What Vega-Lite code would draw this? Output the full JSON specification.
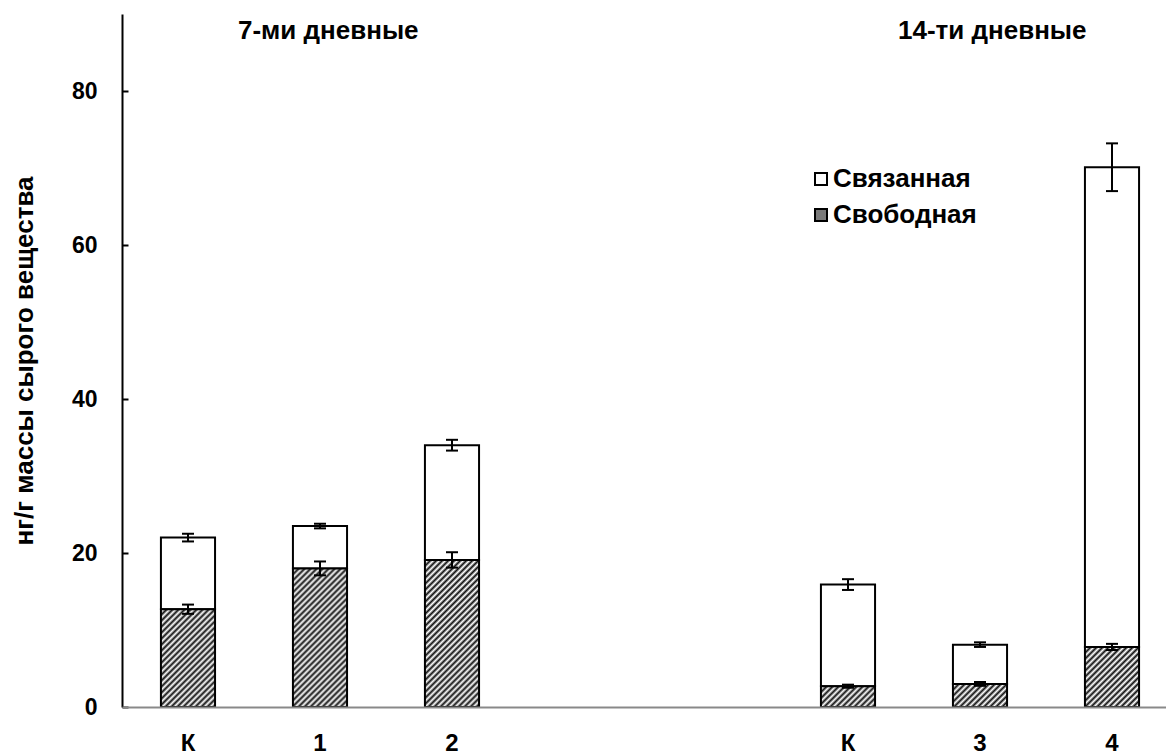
{
  "$schema": "https://vega.github.io/schema/vega-lite/v6.json",
  "width": 1044,
  "height": 693,
  "autosize": {"type": "none"},
  "padding": {"left": 122, "top": 14, "right": 0, "bottom": 47},
  "background": "white",
  "config": {"view": {"stroke": null}, "font": "Liberation Sans"},
  "datasets": {
    "bars": [
      {"cat": "К7", "part": "Свободная", "start": 0, "end": 12.7},
      {"cat": "К7", "part": "Связанная", "start": 12.7, "end": 22.0},
      {"cat": "1", "part": "Свободная", "start": 0, "end": 18.0},
      {"cat": "1", "part": "Связанная", "start": 18.0, "end": 23.5},
      {"cat": "2", "part": "Свободная", "start": 0, "end": 19.1},
      {"cat": "2", "part": "Связанная", "start": 19.1, "end": 34.0},
      {"cat": "К14", "part": "Свободная", "start": 0, "end": 2.7},
      {"cat": "К14", "part": "Связанная", "start": 2.7, "end": 15.9},
      {"cat": "3", "part": "Свободная", "start": 0, "end": 3.0},
      {"cat": "3", "part": "Связанная", "start": 3.0, "end": 8.1},
      {"cat": "4", "part": "Свободная", "start": 0, "end": 7.8},
      {"cat": "4", "part": "Связанная", "start": 7.8, "end": 70.1}
    ],
    "errs": [
      {"cat": "К7", "lo": 12.1, "hi": 13.3},
      {"cat": "К7", "lo": 21.5, "hi": 22.5},
      {"cat": "1", "lo": 17.1, "hi": 18.9},
      {"cat": "1", "lo": 23.2, "hi": 23.8},
      {"cat": "2", "lo": 18.1, "hi": 20.1},
      {"cat": "2", "lo": 33.3, "hi": 34.7},
      {"cat": "К14", "lo": 2.5, "hi": 2.9},
      {"cat": "К14", "lo": 15.2, "hi": 16.6},
      {"cat": "3", "lo": 2.75, "hi": 3.25},
      {"cat": "3", "lo": 7.8, "hi": 8.4},
      {"cat": "4", "lo": 7.4, "hi": 8.2},
      {"cat": "4", "lo": 67.0, "hi": 73.2}
    ],
    "heads": [
      {"cat": "К7", "label": "7-ми дневные", "level": 86.8},
      {"cat": "К14", "label": "14-ти дневные", "level": 86.8}
    ]
  },
  "encoding": {
    "x": {
      "field": "cat",
      "type": "nominal",
      "sort": null,
      "scale": {
        "domain": ["К7", "1", "2", "g1", "g2", "К14", "3", "4"],
        "paddingInner": 0.59,
        "paddingOuter": 0.2495,
        "align": 0.591
      },
      "axis": {
        "orient": "bottom",
        "title": null,
        "ticks": false,
        "labelAngle": 0,
        "domainColor": "#898989",
        "domainWidth": 2,
        "labelPadding": 24,
        "labelFont": "Liberation Sans",
        "labelFontSize": 24,
        "labelFontWeight": "bold",
        "labelColor": "black",
        "zindex": 1,
        "labelExpr": "(datum.value == 'К7' || datum.value == 'К14') ? 'К' : (datum.value[0] == 'g' ? '' : datum.value)"
      }
    }
  },
  "layer": [
    {
      "data": {"name": "bars"},
      "transform": [{"filter": "datum.part == 'Связанная'"}],
      "mark": {"type": "bar", "stroke": "black", "strokeWidth": 2},
      "encoding": {
        "y": {
          "field": "start",
          "type": "quantitative",
          "scale": {"domain": [0, 90], "nice": false},
          "axis": {
            "orient": "left",
            "values": [0, 20, 40, 60, 80],
            "grid": false,
            "domainColor": "black",
            "domainWidth": 2,
            "tickColor": "black",
            "tickWidth": 2,
            "tickSize": -6,
            "labelPadding": 31,
            "labelFont": "Liberation Sans",
            "labelFontSize": 23,
            "labelFontWeight": "bold",
            "labelColor": "black",
            "title": "нг/г массы сырого вещества",
            "titleFont": "Liberation Sans",
            "titleFontSize": 26,
            "titleFontWeight": "bold",
            "titleColor": "black",
            "titlePadding": 34
          }
        },
        "y2": {"field": "end"},
        "fill": {
          "field": "part",
          "type": "nominal",
          "scale": {"domain": ["Связанная", "Свободная"], "range": ["#ffffff", "#7a7a7a"]},
          "legend": {
            "orient": "none",
            "legendX": 686,
            "legendY": 152,
            "title": null,
            "symbolType": "square",
            "symbolSize": 144,
            "symbolStrokeColor": "black",
            "symbolStrokeWidth": 2,
            "labelFont": "Liberation Sans",
            "labelFontSize": 26,
            "labelFontWeight": "bold",
            "labelColor": "black",
            "labelOffset": -1,
            "rowPadding": 10
          }
        }
      }
    },
    {
      "data": {"name": "bars"},
      "transform": [{"filter": "datum.part == 'Свободная' && datum.cat == 'К7'"}],
      "mark": {"type": "bar", "stroke": "black", "strokeWidth": 2,
        "fill": {"gradient": "linear", "x1": 0, "y1": 0, "x2": 1.0385, "y2": 1.8808, "stops": [{"offset":0,"color":"#111"},{"offset":0.0125,"color":"#fff"},{"offset":0.025,"color":"#111"},{"offset":0.0375,"color":"#fff"},{"offset":0.05,"color":"#111"},{"offset":0.0625,"color":"#fff"},{"offset":0.075,"color":"#111"},{"offset":0.0875,"color":"#fff"},{"offset":0.1,"color":"#111"},{"offset":0.1125,"color":"#fff"},{"offset":0.125,"color":"#111"},{"offset":0.1375,"color":"#fff"},{"offset":0.15,"color":"#111"},{"offset":0.1625,"color":"#fff"},{"offset":0.175,"color":"#111"},{"offset":0.1875,"color":"#fff"},{"offset":0.2,"color":"#111"},{"offset":0.2125,"color":"#fff"},{"offset":0.225,"color":"#111"},{"offset":0.2375,"color":"#fff"},{"offset":0.25,"color":"#111"},{"offset":0.2625,"color":"#fff"},{"offset":0.275,"color":"#111"},{"offset":0.2875,"color":"#fff"},{"offset":0.3,"color":"#111"},{"offset":0.3125,"color":"#fff"},{"offset":0.325,"color":"#111"},{"offset":0.3375,"color":"#fff"},{"offset":0.35,"color":"#111"},{"offset":0.3625,"color":"#fff"},{"offset":0.375,"color":"#111"},{"offset":0.3875,"color":"#fff"},{"offset":0.4,"color":"#111"},{"offset":0.4125,"color":"#fff"},{"offset":0.425,"color":"#111"},{"offset":0.4375,"color":"#fff"},{"offset":0.45,"color":"#111"},{"offset":0.4625,"color":"#fff"},{"offset":0.475,"color":"#111"},{"offset":0.4875,"color":"#fff"},{"offset":0.5,"color":"#111"},{"offset":0.5125,"color":"#fff"},{"offset":0.525,"color":"#111"},{"offset":0.5375,"color":"#fff"},{"offset":0.55,"color":"#111"},{"offset":0.5625,"color":"#fff"},{"offset":0.575,"color":"#111"},{"offset":0.5875,"color":"#fff"},{"offset":0.6,"color":"#111"},{"offset":0.6125,"color":"#fff"},{"offset":0.625,"color":"#111"},{"offset":0.6375,"color":"#fff"},{"offset":0.65,"color":"#111"},{"offset":0.6625,"color":"#fff"},{"offset":0.675,"color":"#111"},{"offset":0.6875,"color":"#fff"},{"offset":0.7,"color":"#111"},{"offset":0.7125,"color":"#fff"},{"offset":0.725,"color":"#111"},{"offset":0.7375,"color":"#fff"},{"offset":0.75,"color":"#111"},{"offset":0.7625,"color":"#fff"},{"offset":0.775,"color":"#111"},{"offset":0.7875,"color":"#fff"},{"offset":0.8,"color":"#111"},{"offset":0.8125,"color":"#fff"},{"offset":0.825,"color":"#111"},{"offset":0.8375,"color":"#fff"},{"offset":0.85,"color":"#111"},{"offset":0.8625,"color":"#fff"},{"offset":0.875,"color":"#111"},{"offset":0.8875,"color":"#fff"},{"offset":0.9,"color":"#111"},{"offset":0.9125,"color":"#fff"},{"offset":0.925,"color":"#111"},{"offset":0.9375,"color":"#fff"},{"offset":0.95,"color":"#111"},{"offset":0.9625,"color":"#fff"},{"offset":0.975,"color":"#111"},{"offset":0.9875,"color":"#fff"},{"offset":1,"color":"#111"}]}
      },
      "encoding": {"y": {"field": "start", "type": "quantitative"}, "y2": {"field": "end"}}
    },
    {
      "data": {"name": "bars"},
      "transform": [{"filter": "datum.part == 'Свободная' && datum.cat == '1'"}],
      "mark": {"type": "bar", "stroke": "black", "strokeWidth": 2,
        "fill": {"gradient": "linear", "x1": 0, "y1": 0, "x2": 0.5857, "y2": 1.5033, "stops": [{"offset":0,"color":"#111"},{"offset":0.0125,"color":"#fff"},{"offset":0.025,"color":"#111"},{"offset":0.0375,"color":"#fff"},{"offset":0.05,"color":"#111"},{"offset":0.0625,"color":"#fff"},{"offset":0.075,"color":"#111"},{"offset":0.0875,"color":"#fff"},{"offset":0.1,"color":"#111"},{"offset":0.1125,"color":"#fff"},{"offset":0.125,"color":"#111"},{"offset":0.1375,"color":"#fff"},{"offset":0.15,"color":"#111"},{"offset":0.1625,"color":"#fff"},{"offset":0.175,"color":"#111"},{"offset":0.1875,"color":"#fff"},{"offset":0.2,"color":"#111"},{"offset":0.2125,"color":"#fff"},{"offset":0.225,"color":"#111"},{"offset":0.2375,"color":"#fff"},{"offset":0.25,"color":"#111"},{"offset":0.2625,"color":"#fff"},{"offset":0.275,"color":"#111"},{"offset":0.2875,"color":"#fff"},{"offset":0.3,"color":"#111"},{"offset":0.3125,"color":"#fff"},{"offset":0.325,"color":"#111"},{"offset":0.3375,"color":"#fff"},{"offset":0.35,"color":"#111"},{"offset":0.3625,"color":"#fff"},{"offset":0.375,"color":"#111"},{"offset":0.3875,"color":"#fff"},{"offset":0.4,"color":"#111"},{"offset":0.4125,"color":"#fff"},{"offset":0.425,"color":"#111"},{"offset":0.4375,"color":"#fff"},{"offset":0.45,"color":"#111"},{"offset":0.4625,"color":"#fff"},{"offset":0.475,"color":"#111"},{"offset":0.4875,"color":"#fff"},{"offset":0.5,"color":"#111"},{"offset":0.5125,"color":"#fff"},{"offset":0.525,"color":"#111"},{"offset":0.5375,"color":"#fff"},{"offset":0.55,"color":"#111"},{"offset":0.5625,"color":"#fff"},{"offset":0.575,"color":"#111"},{"offset":0.5875,"color":"#fff"},{"offset":0.6,"color":"#111"},{"offset":0.6125,"color":"#fff"},{"offset":0.625,"color":"#111"},{"offset":0.6375,"color":"#fff"},{"offset":0.65,"color":"#111"},{"offset":0.6625,"color":"#fff"},{"offset":0.675,"color":"#111"},{"offset":0.6875,"color":"#fff"},{"offset":0.7,"color":"#111"},{"offset":0.7125,"color":"#fff"},{"offset":0.725,"color":"#111"},{"offset":0.7375,"color":"#fff"},{"offset":0.75,"color":"#111"},{"offset":0.7625,"color":"#fff"},{"offset":0.775,"color":"#111"},{"offset":0.7875,"color":"#fff"},{"offset":0.8,"color":"#111"},{"offset":0.8125,"color":"#fff"},{"offset":0.825,"color":"#111"},{"offset":0.8375,"color":"#fff"},{"offset":0.85,"color":"#111"},{"offset":0.8625,"color":"#fff"},{"offset":0.875,"color":"#111"},{"offset":0.8875,"color":"#fff"},{"offset":0.9,"color":"#111"},{"offset":0.9125,"color":"#fff"},{"offset":0.925,"color":"#111"},{"offset":0.9375,"color":"#fff"},{"offset":0.95,"color":"#111"},{"offset":0.9625,"color":"#fff"},{"offset":0.975,"color":"#111"},{"offset":0.9875,"color":"#fff"},{"offset":1,"color":"#111"}]}
      },
      "encoding": {"y": {"field": "start", "type": "quantitative"}, "y2": {"field": "end"}}
    },
    {
      "data": {"name": "bars"},
      "transform": [{"filter": "datum.part == 'Свободная' && datum.cat == '2'"}],
      "mark": {"type": "bar", "stroke": "black", "strokeWidth": 2,
        "fill": {"gradient": "linear", "x1": 0, "y1": 0, "x2": 0.5303, "y2": 1.4407, "stops": [{"offset":0,"color":"#111"},{"offset":0.0125,"color":"#fff"},{"offset":0.025,"color":"#111"},{"offset":0.0375,"color":"#fff"},{"offset":0.05,"color":"#111"},{"offset":0.0625,"color":"#fff"},{"offset":0.075,"color":"#111"},{"offset":0.0875,"color":"#fff"},{"offset":0.1,"color":"#111"},{"offset":0.1125,"color":"#fff"},{"offset":0.125,"color":"#111"},{"offset":0.1375,"color":"#fff"},{"offset":0.15,"color":"#111"},{"offset":0.1625,"color":"#fff"},{"offset":0.175,"color":"#111"},{"offset":0.1875,"color":"#fff"},{"offset":0.2,"color":"#111"},{"offset":0.2125,"color":"#fff"},{"offset":0.225,"color":"#111"},{"offset":0.2375,"color":"#fff"},{"offset":0.25,"color":"#111"},{"offset":0.2625,"color":"#fff"},{"offset":0.275,"color":"#111"},{"offset":0.2875,"color":"#fff"},{"offset":0.3,"color":"#111"},{"offset":0.3125,"color":"#fff"},{"offset":0.325,"color":"#111"},{"offset":0.3375,"color":"#fff"},{"offset":0.35,"color":"#111"},{"offset":0.3625,"color":"#fff"},{"offset":0.375,"color":"#111"},{"offset":0.3875,"color":"#fff"},{"offset":0.4,"color":"#111"},{"offset":0.4125,"color":"#fff"},{"offset":0.425,"color":"#111"},{"offset":0.4375,"color":"#fff"},{"offset":0.45,"color":"#111"},{"offset":0.4625,"color":"#fff"},{"offset":0.475,"color":"#111"},{"offset":0.4875,"color":"#fff"},{"offset":0.5,"color":"#111"},{"offset":0.5125,"color":"#fff"},{"offset":0.525,"color":"#111"},{"offset":0.5375,"color":"#fff"},{"offset":0.55,"color":"#111"},{"offset":0.5625,"color":"#fff"},{"offset":0.575,"color":"#111"},{"offset":0.5875,"color":"#fff"},{"offset":0.6,"color":"#111"},{"offset":0.6125,"color":"#fff"},{"offset":0.625,"color":"#111"},{"offset":0.6375,"color":"#fff"},{"offset":0.65,"color":"#111"},{"offset":0.6625,"color":"#fff"},{"offset":0.675,"color":"#111"},{"offset":0.6875,"color":"#fff"},{"offset":0.7,"color":"#111"},{"offset":0.7125,"color":"#fff"},{"offset":0.725,"color":"#111"},{"offset":0.7375,"color":"#fff"},{"offset":0.75,"color":"#111"},{"offset":0.7625,"color":"#fff"},{"offset":0.775,"color":"#111"},{"offset":0.7875,"color":"#fff"},{"offset":0.8,"color":"#111"},{"offset":0.8125,"color":"#fff"},{"offset":0.825,"color":"#111"},{"offset":0.8375,"color":"#fff"},{"offset":0.85,"color":"#111"},{"offset":0.8625,"color":"#fff"},{"offset":0.875,"color":"#111"},{"offset":0.8875,"color":"#fff"},{"offset":0.9,"color":"#111"},{"offset":0.9125,"color":"#fff"},{"offset":0.925,"color":"#111"},{"offset":0.9375,"color":"#fff"},{"offset":0.95,"color":"#111"},{"offset":0.9625,"color":"#fff"},{"offset":0.975,"color":"#111"},{"offset":0.9875,"color":"#fff"},{"offset":1,"color":"#111"}]}
      },
      "encoding": {"y": {"field": "start", "type": "quantitative"}, "y2": {"field": "end"}}
    },
    {
      "data": {"name": "bars"},
      "transform": [{"filter": "datum.part == 'Свободная' && datum.cat == 'К14'"}],
      "mark": {"type": "bar", "stroke": "black", "strokeWidth": 2,
        "fill": {"gradient": "linear", "x1": 0, "y1": 0, "x2": 3.870, "y2": 1.4907, "stops": [{"offset":0,"color":"#111"},{"offset":0.0125,"color":"#fff"},{"offset":0.025,"color":"#111"},{"offset":0.0375,"color":"#fff"},{"offset":0.05,"color":"#111"},{"offset":0.0625,"color":"#fff"},{"offset":0.075,"color":"#111"},{"offset":0.0875,"color":"#fff"},{"offset":0.1,"color":"#111"},{"offset":0.1125,"color":"#fff"},{"offset":0.125,"color":"#111"},{"offset":0.1375,"color":"#fff"},{"offset":0.15,"color":"#111"},{"offset":0.1625,"color":"#fff"},{"offset":0.175,"color":"#111"},{"offset":0.1875,"color":"#fff"},{"offset":0.2,"color":"#111"},{"offset":0.2125,"color":"#fff"},{"offset":0.225,"color":"#111"},{"offset":0.2375,"color":"#fff"},{"offset":0.25,"color":"#111"},{"offset":0.2625,"color":"#fff"},{"offset":0.275,"color":"#111"},{"offset":0.2875,"color":"#fff"},{"offset":0.3,"color":"#111"},{"offset":0.3125,"color":"#fff"},{"offset":0.325,"color":"#111"},{"offset":0.3375,"color":"#fff"},{"offset":0.35,"color":"#111"},{"offset":0.3625,"color":"#fff"},{"offset":0.375,"color":"#111"},{"offset":0.3875,"color":"#fff"},{"offset":0.4,"color":"#111"},{"offset":0.4125,"color":"#fff"},{"offset":0.425,"color":"#111"},{"offset":0.4375,"color":"#fff"},{"offset":0.45,"color":"#111"},{"offset":0.4625,"color":"#fff"},{"offset":0.475,"color":"#111"},{"offset":0.4875,"color":"#fff"},{"offset":0.5,"color":"#111"},{"offset":0.5125,"color":"#fff"},{"offset":0.525,"color":"#111"},{"offset":0.5375,"color":"#fff"},{"offset":0.55,"color":"#111"},{"offset":0.5625,"color":"#fff"},{"offset":0.575,"color":"#111"},{"offset":0.5875,"color":"#fff"},{"offset":0.6,"color":"#111"},{"offset":0.6125,"color":"#fff"},{"offset":0.625,"color":"#111"},{"offset":0.6375,"color":"#fff"},{"offset":0.65,"color":"#111"},{"offset":0.6625,"color":"#fff"},{"offset":0.675,"color":"#111"},{"offset":0.6875,"color":"#fff"},{"offset":0.7,"color":"#111"},{"offset":0.7125,"color":"#fff"},{"offset":0.725,"color":"#111"},{"offset":0.7375,"color":"#fff"},{"offset":0.75,"color":"#111"},{"offset":0.7625,"color":"#fff"},{"offset":0.775,"color":"#111"},{"offset":0.7875,"color":"#fff"},{"offset":0.8,"color":"#111"},{"offset":0.8125,"color":"#fff"},{"offset":0.825,"color":"#111"},{"offset":0.8375,"color":"#fff"},{"offset":0.85,"color":"#111"},{"offset":0.8625,"color":"#fff"},{"offset":0.875,"color":"#111"},{"offset":0.8875,"color":"#fff"},{"offset":0.9,"color":"#111"},{"offset":0.9125,"color":"#fff"},{"offset":0.925,"color":"#111"},{"offset":0.9375,"color":"#fff"},{"offset":0.95,"color":"#111"},{"offset":0.9625,"color":"#fff"},{"offset":0.975,"color":"#111"},{"offset":0.9875,"color":"#fff"},{"offset":1,"color":"#111"}]}
      },
      "encoding": {"y": {"field": "start", "type": "quantitative"}, "y2": {"field": "end"}}
    },
    {
      "data": {"name": "bars"},
      "transform": [{"filter": "datum.part == 'Свободная' && datum.cat == '3'"}],
      "mark": {"type": "bar", "stroke": "black", "strokeWidth": 2,
        "fill": {"gradient": "linear", "x1": 0, "y1": 0, "x2": 3.7567, "y2": 1.607, "stops": [{"offset":0,"color":"#111"},{"offset":0.0125,"color":"#fff"},{"offset":0.025,"color":"#111"},{"offset":0.0375,"color":"#fff"},{"offset":0.05,"color":"#111"},{"offset":0.0625,"color":"#fff"},{"offset":0.075,"color":"#111"},{"offset":0.0875,"color":"#fff"},{"offset":0.1,"color":"#111"},{"offset":0.1125,"color":"#fff"},{"offset":0.125,"color":"#111"},{"offset":0.1375,"color":"#fff"},{"offset":0.15,"color":"#111"},{"offset":0.1625,"color":"#fff"},{"offset":0.175,"color":"#111"},{"offset":0.1875,"color":"#fff"},{"offset":0.2,"color":"#111"},{"offset":0.2125,"color":"#fff"},{"offset":0.225,"color":"#111"},{"offset":0.2375,"color":"#fff"},{"offset":0.25,"color":"#111"},{"offset":0.2625,"color":"#fff"},{"offset":0.275,"color":"#111"},{"offset":0.2875,"color":"#fff"},{"offset":0.3,"color":"#111"},{"offset":0.3125,"color":"#fff"},{"offset":0.325,"color":"#111"},{"offset":0.3375,"color":"#fff"},{"offset":0.35,"color":"#111"},{"offset":0.3625,"color":"#fff"},{"offset":0.375,"color":"#111"},{"offset":0.3875,"color":"#fff"},{"offset":0.4,"color":"#111"},{"offset":0.4125,"color":"#fff"},{"offset":0.425,"color":"#111"},{"offset":0.4375,"color":"#fff"},{"offset":0.45,"color":"#111"},{"offset":0.4625,"color":"#fff"},{"offset":0.475,"color":"#111"},{"offset":0.4875,"color":"#fff"},{"offset":0.5,"color":"#111"},{"offset":0.5125,"color":"#fff"},{"offset":0.525,"color":"#111"},{"offset":0.5375,"color":"#fff"},{"offset":0.55,"color":"#111"},{"offset":0.5625,"color":"#fff"},{"offset":0.575,"color":"#111"},{"offset":0.5875,"color":"#fff"},{"offset":0.6,"color":"#111"},{"offset":0.6125,"color":"#fff"},{"offset":0.625,"color":"#111"},{"offset":0.6375,"color":"#fff"},{"offset":0.65,"color":"#111"},{"offset":0.6625,"color":"#fff"},{"offset":0.675,"color":"#111"},{"offset":0.6875,"color":"#fff"},{"offset":0.7,"color":"#111"},{"offset":0.7125,"color":"#fff"},{"offset":0.725,"color":"#111"},{"offset":0.7375,"color":"#fff"},{"offset":0.75,"color":"#111"},{"offset":0.7625,"color":"#fff"},{"offset":0.775,"color":"#111"},{"offset":0.7875,"color":"#fff"},{"offset":0.8,"color":"#111"},{"offset":0.8125,"color":"#fff"},{"offset":0.825,"color":"#111"},{"offset":0.8375,"color":"#fff"},{"offset":0.85,"color":"#111"},{"offset":0.8625,"color":"#fff"},{"offset":0.875,"color":"#111"},{"offset":0.8875,"color":"#fff"},{"offset":0.9,"color":"#111"},{"offset":0.9125,"color":"#fff"},{"offset":0.925,"color":"#111"},{"offset":0.9375,"color":"#fff"},{"offset":0.95,"color":"#111"},{"offset":0.9625,"color":"#fff"},{"offset":0.975,"color":"#111"},{"offset":0.9875,"color":"#fff"},{"offset":1,"color":"#111"}]}
      },
      "encoding": {"y": {"field": "start", "type": "quantitative"}, "y2": {"field": "end"}}
    },
    {
      "data": {"name": "bars"},
      "transform": [{"filter": "datum.part == 'Свободная' && datum.cat == '4'"}],
      "mark": {"type": "bar", "stroke": "black", "strokeWidth": 2,
        "fill": {"gradient": "linear", "x1": 0, "y1": 0, "x2": 1.9867, "y2": 2.2097, "stops": [{"offset":0,"color":"#111"},{"offset":0.0125,"color":"#fff"},{"offset":0.025,"color":"#111"},{"offset":0.0375,"color":"#fff"},{"offset":0.05,"color":"#111"},{"offset":0.0625,"color":"#fff"},{"offset":0.075,"color":"#111"},{"offset":0.0875,"color":"#fff"},{"offset":0.1,"color":"#111"},{"offset":0.1125,"color":"#fff"},{"offset":0.125,"color":"#111"},{"offset":0.1375,"color":"#fff"},{"offset":0.15,"color":"#111"},{"offset":0.1625,"color":"#fff"},{"offset":0.175,"color":"#111"},{"offset":0.1875,"color":"#fff"},{"offset":0.2,"color":"#111"},{"offset":0.2125,"color":"#fff"},{"offset":0.225,"color":"#111"},{"offset":0.2375,"color":"#fff"},{"offset":0.25,"color":"#111"},{"offset":0.2625,"color":"#fff"},{"offset":0.275,"color":"#111"},{"offset":0.2875,"color":"#fff"},{"offset":0.3,"color":"#111"},{"offset":0.3125,"color":"#fff"},{"offset":0.325,"color":"#111"},{"offset":0.3375,"color":"#fff"},{"offset":0.35,"color":"#111"},{"offset":0.3625,"color":"#fff"},{"offset":0.375,"color":"#111"},{"offset":0.3875,"color":"#fff"},{"offset":0.4,"color":"#111"},{"offset":0.4125,"color":"#fff"},{"offset":0.425,"color":"#111"},{"offset":0.4375,"color":"#fff"},{"offset":0.45,"color":"#111"},{"offset":0.4625,"color":"#fff"},{"offset":0.475,"color":"#111"},{"offset":0.4875,"color":"#fff"},{"offset":0.5,"color":"#111"},{"offset":0.5125,"color":"#fff"},{"offset":0.525,"color":"#111"},{"offset":0.5375,"color":"#fff"},{"offset":0.55,"color":"#111"},{"offset":0.5625,"color":"#fff"},{"offset":0.575,"color":"#111"},{"offset":0.5875,"color":"#fff"},{"offset":0.6,"color":"#111"},{"offset":0.6125,"color":"#fff"},{"offset":0.625,"color":"#111"},{"offset":0.6375,"color":"#fff"},{"offset":0.65,"color":"#111"},{"offset":0.6625,"color":"#fff"},{"offset":0.675,"color":"#111"},{"offset":0.6875,"color":"#fff"},{"offset":0.7,"color":"#111"},{"offset":0.7125,"color":"#fff"},{"offset":0.725,"color":"#111"},{"offset":0.7375,"color":"#fff"},{"offset":0.75,"color":"#111"},{"offset":0.7625,"color":"#fff"},{"offset":0.775,"color":"#111"},{"offset":0.7875,"color":"#fff"},{"offset":0.8,"color":"#111"},{"offset":0.8125,"color":"#fff"},{"offset":0.825,"color":"#111"},{"offset":0.8375,"color":"#fff"},{"offset":0.85,"color":"#111"},{"offset":0.8625,"color":"#fff"},{"offset":0.875,"color":"#111"},{"offset":0.8875,"color":"#fff"},{"offset":0.9,"color":"#111"},{"offset":0.9125,"color":"#fff"},{"offset":0.925,"color":"#111"},{"offset":0.9375,"color":"#fff"},{"offset":0.95,"color":"#111"},{"offset":0.9625,"color":"#fff"},{"offset":0.975,"color":"#111"},{"offset":0.9875,"color":"#fff"},{"offset":1,"color":"#111"}]}
      },
      "encoding": {"y": {"field": "start", "type": "quantitative"}, "y2": {"field": "end"}}
    },
    {
      "data": {"name": "errs"},
      "mark": {"type": "rule", "color": "black", "strokeWidth": 2},
      "encoding": {
        "y": {"field": "lo", "type": "quantitative"},
        "y2": {"field": "hi"}
      }
    },
    {
      "data": {"name": "errs"},
      "mark": {"type": "tick", "color": "black", "size": 12, "thickness": 2, "opacity": 1},
      "encoding": {
        "y": {"field": "lo", "type": "quantitative"}
      }
    },
    {
      "data": {"name": "errs"},
      "mark": {"type": "tick", "color": "black", "size": 12, "thickness": 2, "opacity": 1},
      "encoding": {
        "y": {"field": "hi", "type": "quantitative"}
      }
    },
    {
      "data": {"name": "heads"},
      "mark": {"type": "text", "align": "left", "baseline": "alphabetic", "dx": 50, "font": "Liberation Sans", "fontSize": 26, "fontWeight": "bold", "fill": "black"},
      "encoding": {
        "y": {"field": "level", "type": "quantitative"},
        "text": {"field": "label", "type": "nominal"}
      }
    }
  ]
}
